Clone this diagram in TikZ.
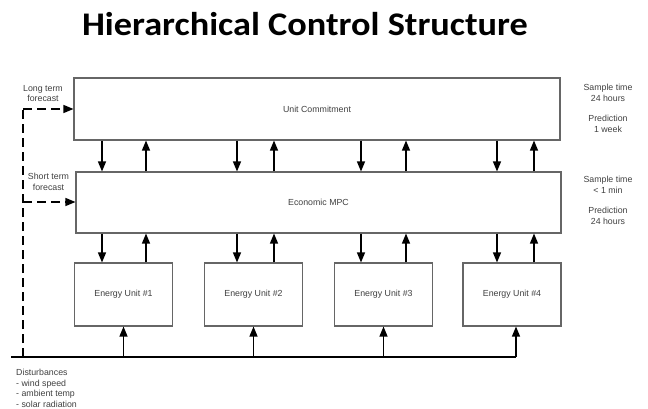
\documentclass[tikz,border=0pt]{standalone}
\usepackage{fontspec}
\setmainfont{Liberation Sans}
\newfontfamily\titlefont{Carlito}
\usetikzlibrary{arrows.meta}
\begin{document}
\begin{tikzpicture}[x=1pt,y=-1pt,
  block/.style={draw=black!60, line width=1.1pt, fill=white, inner sep=0pt,
    font=\fontsize{8.8}{10.5}\selectfont, text=black!75},
  unitbox/.style={block, minimum width=98pt, minimum height=63pt},
  lbl/.style={inner sep=0pt, align=center, font=\fontsize{8.8}{10.6}\selectfont, text=black!75},
  arr/.style={draw=black, line width=1.3pt, -{Triangle[length=10pt,width=8pt]}},
  feed/.style={draw=black, line width=1.3pt, dash pattern=on 9pt off 5pt},
  bus/.style={draw=black, line width=1.3pt}]
\useasboundingbox (0,0) rectangle (648,409);

% title
\node[inner sep=0pt, anchor=base, xscale=1.1, font=\titlefont\bfseries\fontsize{33}{38}\selectfont] (title) at (305,35.5) {Hierarchical Control Structure};

% control layers
\node[block, minimum width=486pt, minimum height=62pt] (uc) at (317,109) {Unit Commitment};
\node[block, minimum width=485pt, minimum height=61pt] (mpc) at (318.5,202.5) {Economic MPC};

% energy units
\node[unitbox] (eu1) at (123.5,294.5) {Energy Unit \#1};
\node[unitbox] (eu2) at (253.5,294.5) {Energy Unit \#2};
\node[unitbox] (eu3) at (383.5,294.5) {Energy Unit \#3};
\node[unitbox] (eu4) at (512,294.5) {Energy Unit \#4};

% columns of the set-point (down) and feedback (up) arrows
\coordinate (d1) at (102,0);  \coordinate (u1) at (146,0);
\coordinate (d2) at (237,0);  \coordinate (u2) at (274,0);
\coordinate (d3) at (361,0);  \coordinate (u3) at (406,0);
\coordinate (d4) at (497,0);  \coordinate (u4) at (534,0);

\foreach \i in {1,2,3,4}{
  \draw[arr] (uc.south -| d\i) -- (mpc.north -| d\i);
  \draw[arr] (mpc.north -| u\i) -- (uc.south -| u\i);
  \draw[arr] (mpc.south -| d\i) -- (eu\i.north -| d\i);
  \draw[arr] (eu\i.north -| u\i) -- (mpc.south -| u\i);
}

% disturbance bus
\coordinate (busL) at (11,357);
\coordinate (busR) at (516,357);
\draw[bus] (busL) -- (busR);
\foreach \i in {1,2,3}{
  \draw[arr] (busL -| eu\i.south) -- (eu\i.south);
}
\draw[arr] (busR) -- (busR |- eu4.south);

% forecasts (dashed)
\coordinate (fb) at (23,357);
\coordinate (ft) at (23,109);
\coordinate (fm) at (23,202);
\draw[feed] (fb) -- (ft);
\draw[feed, -{Triangle[length=10pt,width=8pt]}] (ft) -- (uc.west);
\draw[feed, -{Triangle[length=10pt,width=8pt]}] (fm) -- (fm -| mpc.west);

% labels
\node[lbl] (ltf) at (43,93.5) {Long term\\forecast};
\node[lbl] (stf) at (48.5,182) {Short term\\forecast};
\node[lbl] (uct) at (608,108.5) {Sample time\\24 hours\\[10pt]Prediction\\1 week};
\node[lbl] (mpct) at (608,200.5) {Sample time\\{<} 1 min\\[10pt]Prediction\\24 hours};
\node[lbl, align=left, anchor=north west] (dist) at (16,369) {Disturbances\\- wind speed\\- ambient temp\\- solar radiation};
\end{tikzpicture}
\end{document}
